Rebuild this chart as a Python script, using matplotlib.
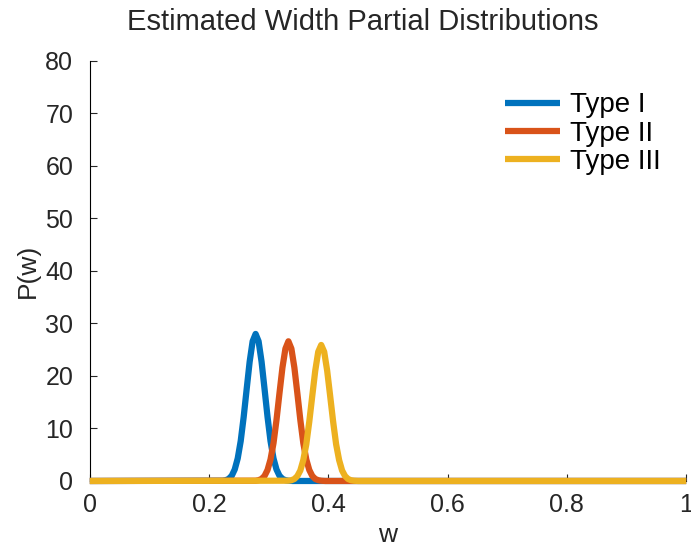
import numpy as np
import matplotlib
matplotlib.use("Agg")
import matplotlib.pyplot as plt

plt.rcParams['font.family'] = ['Liberation Sans', 'DejaVu Sans']

# curve points
w_type1 = [0.0, 0.223, 0.228, 0.233, 0.238, 0.243, 0.248, 0.253, 0.258, 0.263, 0.268, 0.273, 0.278,
           0.283, 0.288, 0.293, 0.298, 0.303, 0.308, 0.313, 0.318, 0.323, 0.328, 0.333, 0.340, 1.0]
p_type1 = [0.0, 0.05, 0.15, 0.41, 1.0, 2.2, 4.3, 7.6, 12.2, 17.5, 22.7, 26.6, 28.0,
           26.6, 22.7, 17.5, 12.2, 7.6, 4.3, 2.2, 1.0, 0.41, 0.15, 0.05, 0.0, 0.0]

w_type2 = [0.0, 0.278, 0.283, 0.288, 0.293, 0.298, 0.303, 0.308, 0.313, 0.318, 0.323, 0.328, 0.333,
           0.338, 0.343, 0.348, 0.353, 0.358, 0.363, 0.368, 0.373, 0.378, 0.383, 0.388, 0.395, 1.0]
p_type2 = [0.0, 0.05, 0.15, 0.39, 0.96, 2.1, 4.1, 7.2, 11.6, 16.7, 21.6, 25.2, 26.6,
           25.2, 21.6, 16.7, 11.6, 7.2, 4.1, 2.1, 0.96, 0.39, 0.15, 0.05, 0.0, 0.0]

w_type3 = [0.0, 0.333, 0.338, 0.343, 0.348, 0.353, 0.358, 0.363, 0.368, 0.373, 0.378, 0.383, 0.388,
           0.393, 0.398, 0.403, 0.408, 0.413, 0.418, 0.423, 0.428, 0.433, 0.438, 0.443, 0.450, 1.0]
p_type3 = [0.0, 0.05, 0.14, 0.38, 0.93, 2.0, 4.0, 7.0, 11.3, 16.2, 21.0, 24.6, 25.9,
           24.6, 21.0, 16.2, 11.3, 7.0, 4.0, 2.0, 0.93, 0.38, 0.14, 0.05, 0.0, 0.0]

labels = ['Type I', 'Type II', 'Type III']
colors = ['#0072BD', '#D95319', '#EDB120']

fig = plt.figure(figsize=(6.91, 5.47), dpi=100)
ax = fig.add_axes([0.130, 0.1207, 0.863, 0.768])

for w, p, lab, c in zip([w_type1, w_type2, w_type3], [p_type1, p_type2, p_type3], labels, colors):
    ax.plot(w, p, color=c, lw=4.5, label=lab, solid_capstyle='butt',
            clip_on=False, zorder=3)

ax.set_xlim(0, 1)
ax.set_ylim(0, 80)
ax.set_xticks([0, 0.2, 0.4, 0.6, 0.8, 1])
ax.set_xticklabels(['0', '0.2', '0.4', '0.6', '0.8', '1'])
ax.set_yticks(np.arange(0, 81, 10))
ax.spines['top'].set_visible(False)
ax.spines['right'].set_visible(False)
ax.tick_params(direction='in', length=5, labelsize=18, color='#262626', labelcolor='#262626')
ax.tick_params(axis='x', pad=9)
ax.tick_params(axis='y', pad=12)
ax.set_xlabel('w', fontsize=19, color='#262626', labelpad=4)
ax.set_ylabel('P(w)', fontsize=19, color='#262626', labelpad=4)
ax.set_title('Estimated Width Partial Distributions', fontsize=21, color='#262626',
             pad=22, x=0.458)

ax.legend(loc='upper left', frameon=False, fontsize=20, handlelength=2.0,
          labelspacing=0.08, handletextpad=0.36, borderpad=0, borderaxespad=0,
          bbox_to_anchor=(0.696, 0.925))

fig.savefig('out.png', dpi=100)
